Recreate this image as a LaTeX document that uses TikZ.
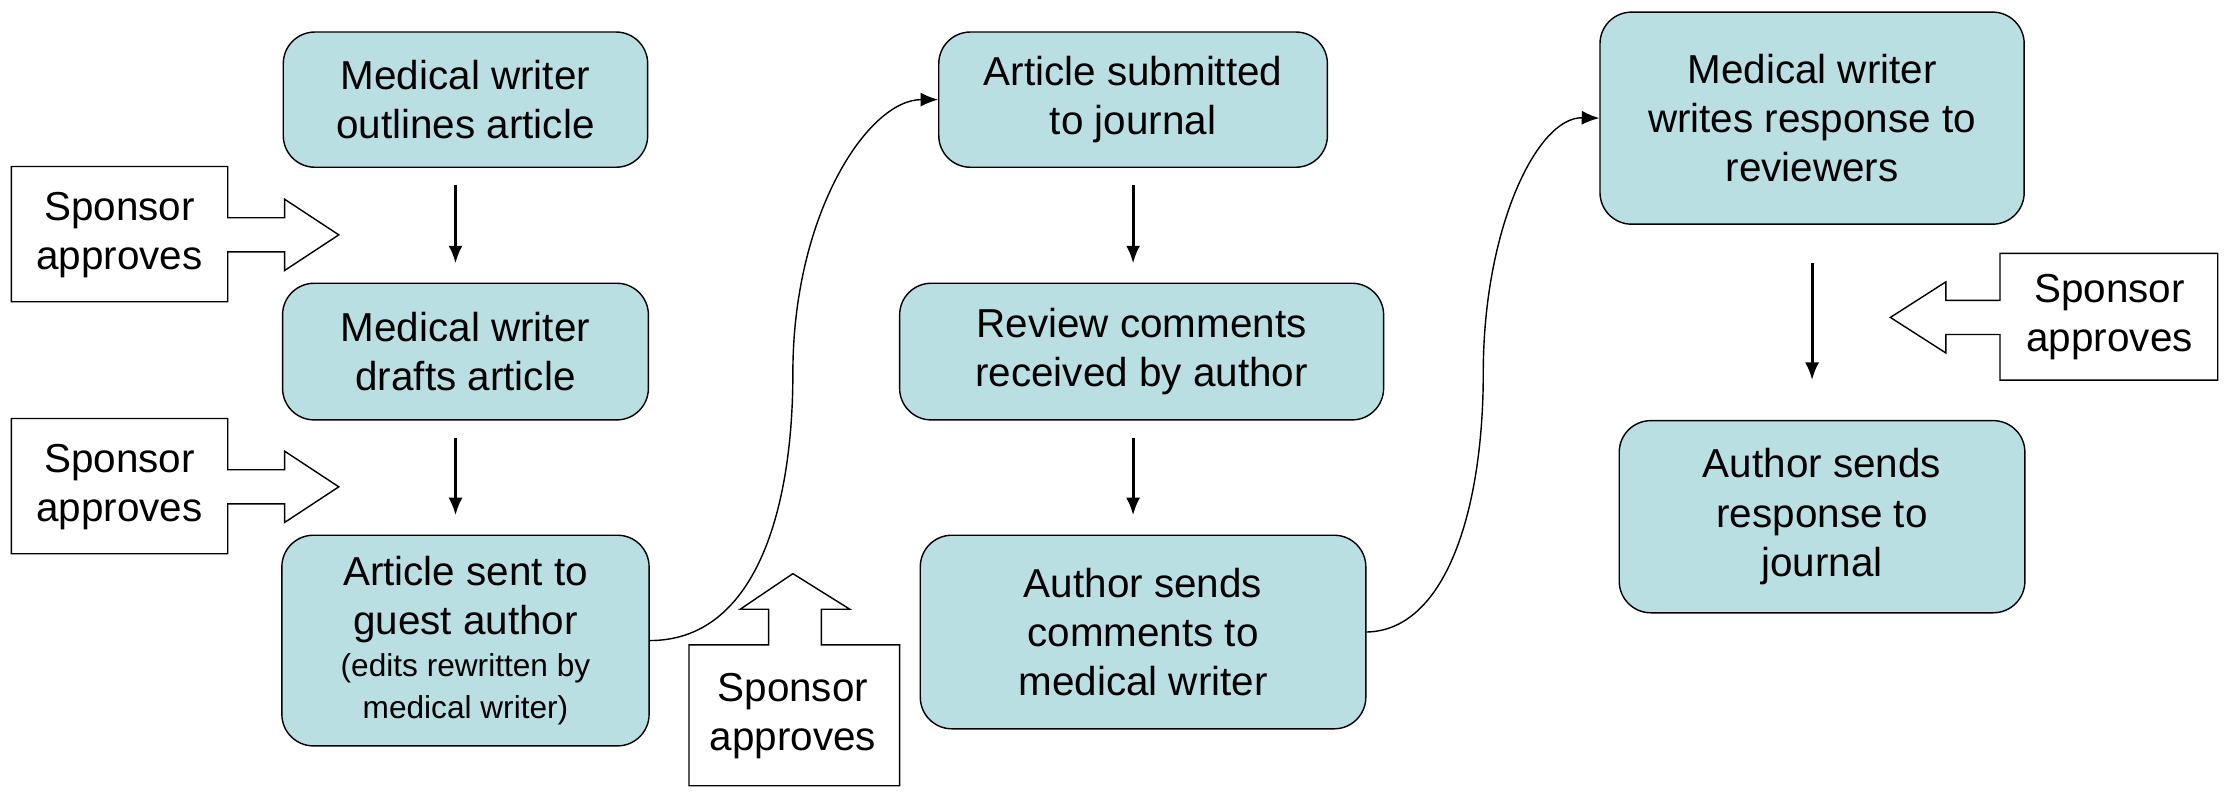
\documentclass[tikz,border=0pt]{standalone}
\usepackage{fontspec}
\setmainfont{Liberation Sans}
\usetikzlibrary{arrows.meta}
\definecolor{boxfill}{HTML}{BADFE3}
\begin{document}
\begin{tikzpicture}[x=0.014235cm, y=-0.014235cm,
    stage/.style={rectangle, draw, rounded corners=9pt, fill=boxfill, align=center,
                 font=\fontsize{11.5}{14}\selectfont, inner sep=0pt},
    arrow/.style={-{Latex[length=5pt,width=4pt]}, thick},
    curve/.style={-{Latex[length=5pt,width=4pt]}},
    sponsor/.style={draw, fill=white, thin},
    note/.style={align=center, font=\fontsize{11.5}{14}\selectfont}
]
    \useasboundingbox (0,0) rectangle (1568,562);

    % Left column
    \node[stage, minimum width=256*0.014235cm, minimum height=95*0.014235cm] (outline) at (327,70) {Medical writer\\outlines article};
    \node[stage, minimum width=257*0.014235cm, minimum height=96*0.014235cm] (draft) at (327,247) {Medical writer\\drafts article};
    \node[stage, minimum width=258*0.014235cm, minimum height=148*0.014235cm] (sent) at (327,450) {Article sent to\\guest author\\[-2pt]{\fontsize{9}{11}\selectfont (edits rewritten by}\\[-2pt]{\fontsize{9}{11}\selectfont medical writer)}};

    \coordinate (a1) at (320,130); \coordinate (a2) at (320,185);
    \coordinate (a3) at (320,308); \coordinate (a4) at (320,362);
    \draw[arrow] (a1) -- (a2);
    \draw[arrow] (a3) -- (a4);

    % Middle column
    \node[stage, minimum width=273*0.014235cm, minimum height=95*0.014235cm] (submit) at (796,70) {Article submitted\\to journal};
    \node[stage, minimum width=340*0.014235cm, minimum height=96*0.014235cm] (review) at (802,247) {Review comments\\received by author};
    \node[stage, minimum width=313*0.014235cm, minimum height=136*0.014235cm] (comments) at (803,444) {Author sends\\comments to\\medical writer};

    \coordinate (b1) at (796,130); \coordinate (b2) at (796,185);
    \coordinate (b3) at (796,308); \coordinate (b4) at (796,362);
    \draw[arrow] (b1) -- (b2);
    \draw[arrow] (b3) -- (b4);

    % Right column
    \node[stage, minimum width=298*0.014235cm, minimum height=149*0.014235cm] (respond) at (1273,83) {Medical writer\\writes response to\\reviewers};
    \node[stage, minimum width=285*0.014235cm, minimum height=135*0.014235cm] (journal) at (1280,363) {Author sends\\response to\\journal};

    \coordinate (c1) at (1273,185); \coordinate (c2) at (1273,267);
    \draw[arrow] (c1) -- (c2);

    % Links between columns
    \draw[curve] (sent.east) .. controls (530,450) and (557,360) .. (557,262)
        .. controls (557,150) and (610,70) .. (submit.west);
    \draw[curve] (comments.east) .. controls (1015,443) and (1042,360) .. (1042,262)
        .. controls (1042,160) and (1080,82) .. (respond.west);

    % Sponsor approves
    \draw[sponsor] (8,117) -- (160,117) -- (160,153) -- (200,153) -- (200,140) -- (238,165)
        -- (200,190) -- (200,177) -- (160,177) -- (160,212) -- (8,212) -- cycle;
    \node[note] (sp1) at (84,165) {Sponsor\\approves};
    \draw[sponsor] (8,294) -- (160,294) -- (160,330) -- (200,330) -- (200,317) -- (238,342)
        -- (200,367) -- (200,354) -- (160,354) -- (160,389) -- (8,389) -- cycle;
    \node[note] (sp2) at (84,342) {Sponsor\\approves};
    \draw[sponsor] (484,453) -- (540,453) -- (540,428) -- (520,428) -- (557,403) -- (597,428)
        -- (577,428) -- (577,453) -- (632,453) -- (632,552) -- (484,552) -- cycle;
    \node[note] (sp3) at (557,503) {Sponsor\\approves};
    \draw[sponsor] (1405,178) -- (1558,178) -- (1558,267) -- (1405,267) -- (1405,235) -- (1367,235)
        -- (1367,248) -- (1328,223) -- (1367,198) -- (1367,211) -- (1405,211) -- cycle;
    \node[note] (sp4) at (1482,223) {Sponsor\\approves};
\end{tikzpicture}
\end{document}
